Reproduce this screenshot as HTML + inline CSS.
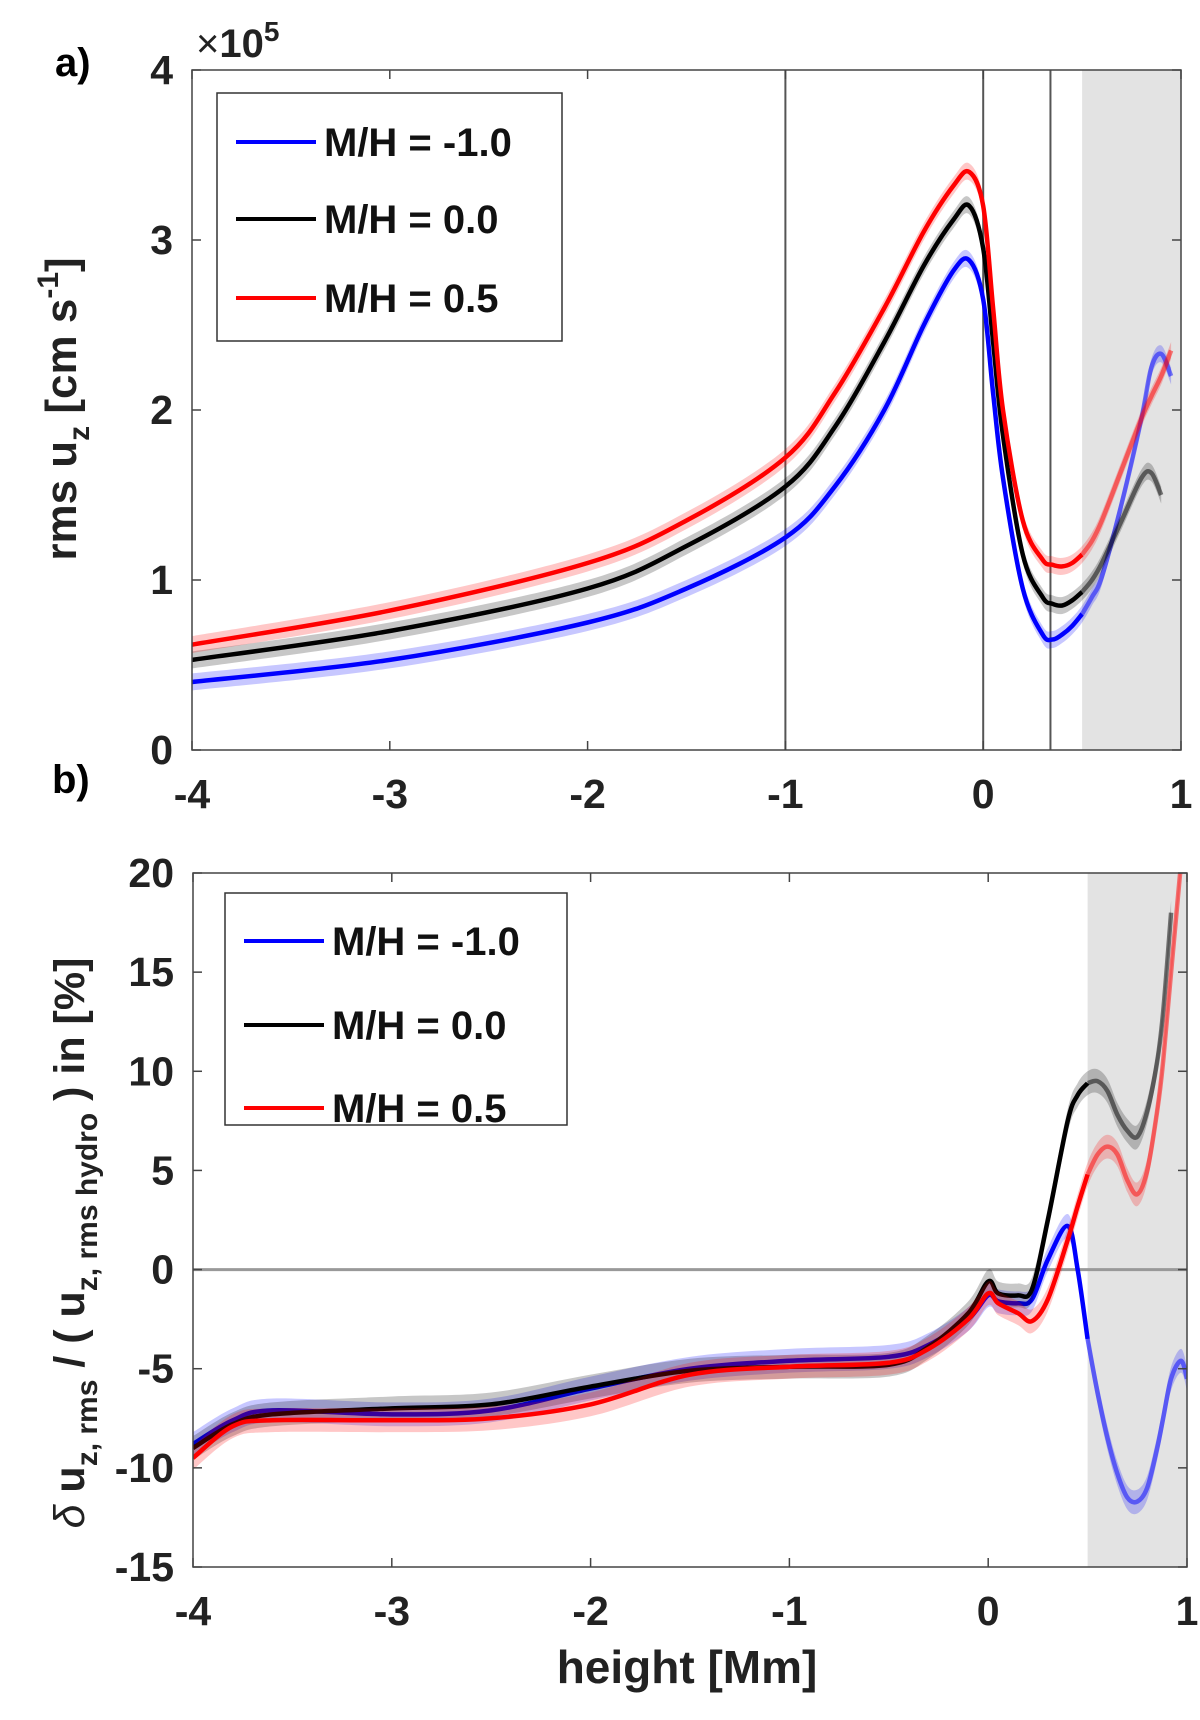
<!DOCTYPE html>
<html><head><meta charset="utf-8">
<style>
html,body{margin:0;padding:0;background:#fff;}
svg{display:block;font-family:"Liberation Sans",Arial,sans-serif;font-weight:bold;}
</style></head>
<body>
<svg id="fig" width="1200" height="1720" viewBox="0 0 1200 1720" xmlns="http://www.w3.org/2000/svg">
  <g id="pa"></g>
  <g id="pb"></g>
  <text x="55" y="76" font-size="40">a)</text>
  <text x="52" y="793" font-size="40">b)</text>
  <text x="196" y="57" font-size="40" font-weight="normal" fill="#222">×<tspan font-weight="bold">10</tspan><tspan font-size="28" dy="-16" font-weight="bold">5</tspan></text>
  <text transform="translate(76,409) rotate(-90)" text-anchor="middle" font-size="44" fill="#222">rms u<tspan font-size="30" dy="13">z</tspan><tspan dy="-13"> [cm s</tspan><tspan font-size="30" dy="-18">-1</tspan><tspan dy="18">]</tspan></text>
  <text transform="translate(84,1243) rotate(-90)" text-anchor="middle" font-size="43" fill="#222"><tspan font-style="italic" font-weight="normal">δ</tspan> u<tspan font-size="30" dy="13">z, rms</tspan><tspan dy="-13"> / ( u</tspan><tspan font-size="30" dy="13">z, rms hydro</tspan><tspan dy="-13"> ) in [%]</tspan></text>
  <text x="687" y="1683" text-anchor="middle" font-size="46" fill="#222">height [Mm]</text>
</svg>
<script>
const xTicks=[-4,-3,-2,-1,0,1];
const aYTicks=[0,1,2,3,4];
const bYTicks=[-15,-10,-5,0,5,10,15,20];
const aX=[-4,-3,-2,-1.5,-1,-0.75,-0.5,-0.3,-0.15,-0.07,0,0.05,0.1,0.2,0.3,0.35,0.4,0.45,0.5,0.55,0.6,0.7,0.8,0.85,0.9,0.95];
const aBlue=[0.4,0.53,0.75,0.95,1.25,1.55,2.0,2.5,2.82,2.88,2.65,2.1,1.6,0.95,0.68,0.65,0.68,0.73,0.8,0.9,1.02,1.45,1.95,2.25,2.33,2.2];
const aBlack=[0.53,0.7,0.95,1.2,1.55,1.9,2.4,2.85,3.12,3.2,2.95,2.4,1.85,1.15,0.9,0.86,0.85,0.88,0.93,1.0,1.1,1.35,1.6,1.63,1.5,null];
const aRed=[0.62,0.82,1.1,1.35,1.72,2.1,2.6,3.05,3.32,3.4,3.2,2.6,2.0,1.35,1.12,1.09,1.08,1.1,1.15,1.23,1.35,1.65,1.95,2.08,2.2,2.35];
const bX=[-4,-3.8,-3.6,-3,-2.5,-2,-1.5,-1,-0.5,-0.3,-0.1,0,0.05,0.15,0.22,0.3,0.4,0.45,0.5,0.55,0.6,0.65,0.7,0.75,0.8,0.85,0.88,0.92,0.97,1.0];
const bBlue=[-8.8,-7.6,-7.1,-7.3,-7.1,-6.0,-5.0,-4.6,-4.4,-3.8,-2.5,-1.3,-1.6,-1.7,-1.5,0.5,2.2,0,-3.5,-6.2,-8.5,-10.3,-11.5,-11.7,-11,-9,-7.5,-5.5,-4.6,-5.5];
const bBlack=[-9,-7.8,-7.3,-7.0,-6.8,-5.9,-5.1,-4.9,-4.8,-3.9,-2.2,-0.6,-1.2,-1.3,-1.0,2.5,7.5,8.8,9.4,9.5,9.0,7.8,7.0,6.7,8,10.5,13,18,null,null];
const bRed=[-9.5,-7.9,-7.6,-7.6,-7.5,-6.8,-5.3,-4.9,-4.7,-4.0,-2.5,-1.2,-1.7,-2.2,-2.6,-1.5,1.5,3.2,4.8,5.8,6.2,5.8,4.5,3.8,5,8,10.5,15,20.5,null];
const NS="http://www.w3.org/2000/svg";
function el(p,t,a){const e=document.createElementNS(NS,t);for(const k in a)e.setAttribute(k,a[k]);p.appendChild(e);return e;}
function smooth(P){ // catmull-rom to bezier
  if(P.length<2)return '';
  let d='M'+P[0][0]+','+P[0][1];
  for(let i=0;i<P.length-1;i++){
    const p0=P[i-1]||P[i],p1=P[i],p2=P[i+1],p3=P[i+2]||p2;
    const c1=[p1[0]+(p2[0]-p0[0])/6,p1[1]+(p2[1]-p0[1])/6];
    const c2=[p2[0]-(p3[0]-p1[0])/6,p2[1]-(p3[1]-p1[1])/6];
    d+=' C'+c1[0]+','+c1[1]+' '+c2[0]+','+c2[1]+' '+p2[0]+','+p2[1];
  }
  return d;
}
function panel(g,L,R,T,B,ymin,ymax,yTicks,ySeries,xs,bandW,legend,extras){
  const sx=v=>L+(v+4)/5*(R-L), sy=v=>B-(v-ymin)/(ymax-ymin)*(B-T);
  const clip=el(g,'clipPath',{id:g.id+'c'});el(clip,'rect',{x:L,y:T,width:R-L,height:B-T});
  const sh=el(g,'rect',{x:sx(0.5),y:T,width:R-sx(0.5),height:B-T,fill:'#e3e3e3'});
  
  
  extras(g,sx,sy);
  const cg=el(g,'g',{'clip-path':'url(#'+g.id+'c)'});
  ySeries.forEach(s=>{
    const pts=[];xs.forEach((x,i)=>{if(s.v[i]!=null)pts.push([x,s.v[i]]);});
    const up=smooth(pts.map(p=>[sx(p[0]),sy(p[1]+bandW)]));
    const dn=smooth(pts.slice().reverse().map(p=>[sx(p[0]),sy(p[1]-bandW)])).replace('M','L');
    const band=el(cg,'path',{d:up+' '+dn+' Z',fill:s.c,opacity:0.22});
    
    
    const inn=pts.filter(p=>p[0]<=0.5), out=pts.filter(p=>p[0]>=0.5);
    const l1=el(cg,'path',{d:smooth(inn.map(p=>[sx(p[0]),sy(p[1])])),fill:'none',stroke:s.c,'stroke-width':4.5,'stroke-linejoin':'round'});
    
    
    const l2=el(cg,'path',{d:smooth(out.map(p=>[sx(p[0]),sy(p[1])])),fill:'none',stroke:s.c,'stroke-width':4.5,opacity:0.5,'stroke-linejoin':'round'});
    
    
  });
  const box=el(g,'rect',{x:L,y:T,width:R-L,height:B-T,fill:'none',stroke:'#444','stroke-width':1.5});
  
  
  xTicks.forEach(t=>{
    el(g,'line',{x1:sx(t),x2:sx(t),y1:B,y2:B-9,stroke:'#444','stroke-width':1.5});
    el(g,'line',{x1:sx(t),x2:sx(t),y1:T,y2:T+9,stroke:'#444','stroke-width':1.5});
    const tx=el(g,'text',{x:sx(t),y:B+58,'text-anchor':'middle','font-size':41,fill:'#222'});tx.textContent=t;
    
    
  });
  yTicks.forEach(t=>{
    el(g,'line',{x1:L,x2:L+9,y1:sy(t),y2:sy(t),stroke:'#444','stroke-width':1.5});
    el(g,'line',{x1:R,x2:R-9,y1:sy(t),y2:sy(t),stroke:'#444','stroke-width':1.5});
    const tx=el(g,'text',{x:L-19,y:sy(t)+14,'text-anchor':'end','font-size':41,fill:'#222'});tx.textContent=t;
    
    
  });
  const lg=el(g,'g',{});
  
  
  el(lg,'rect',{x:legend.x,y:legend.y,width:legend.w,height:legend.h,fill:'#fff',stroke:'#333','stroke-width':1.5});
  ySeries.forEach((s,i)=>{
    const yy=legend.rows[i];
    el(lg,'line',{x1:legend.x+19,x2:legend.x+99,y1:yy,y2:yy,stroke:s.c,'stroke-width':4});
    const tx=el(lg,'text',{x:legend.x+107,y:yy+14,'font-size':40,fill:'#111'});tx.textContent=s.label;
    
    
  });
}
const pa=document.getElementById('pa'), pb=document.getElementById('pb');
panel(pa,192,1181,70,750,0,4,aYTicks,
 [{n:'blue-mh-minus1',c:'#0000ff',v:aBlue,label:'M/H = -1.0'},{n:'black-mh-0',c:'#000000',v:aBlack,label:'M/H = 0.0'},{n:'red-mh-0-5',c:'#ff0000',v:aRed,label:'M/H = 0.5'}],
 aX,0.05,{x:217,y:93,w:345,h:248,rows:[142,219,298]},
 (g,sx,sy)=>{[-1,0,0.34].forEach(v=>{const l=el(g,'line',{x1:sx(v),x2:sx(v),y1:70,y2:750,stroke:'#555','stroke-width':2});
   
   });});
panel(pb,193,1187,873,1567,-15,20,bYTicks,
 [{n:'blue-mh-minus1',c:'#0000ff',v:bBlue,label:'M/H = -1.0'},{n:'black-mh-0',c:'#000000',v:bBlack,label:'M/H = 0.0'},{n:'red-mh-0-5',c:'#ff0000',v:bRed,label:'M/H = 0.5'}],
 bX,0.6,{x:225,y:893,w:342,h:232,rows:[941,1025,1108]},
 (g,sx,sy)=>{const l=el(g,'line',{x1:193,x2:1187,y1:sy(0),y2:sy(0),stroke:'#999','stroke-width':3});
   
   });
</script>
</body></html>
